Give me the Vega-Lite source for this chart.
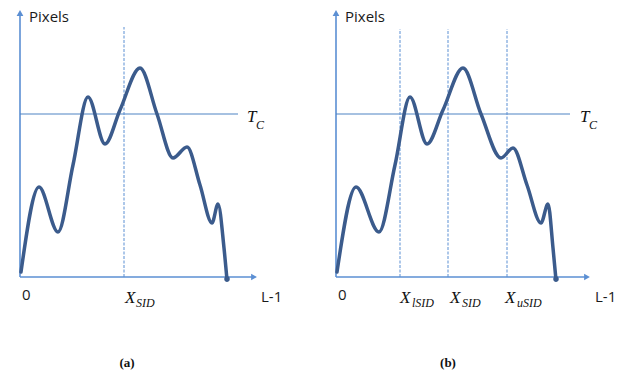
{
  "$schema": "https://vega.github.io/schema/vega-lite/v6.json",
  "width": 626,
  "height": 376,
  "padding": 0,
  "autosize": {"type": "fit", "contains": "padding"},
  "background": "white",
  "config": {"view": {"stroke": null}},
  "datasets": {
    "curve": [
      {"panel": "a", "gx": 21, "gy": 104}, {"panel": "a", "gx": 39, "gy": 189}, {"panel": "a", "gx": 58, "gy": 144},
      {"panel": "a", "gx": 73, "gy": 211}, {"panel": "a", "gx": 88, "gy": 279}, {"panel": "a", "gx": 105, "gy": 232},
      {"panel": "a", "gx": 120, "gy": 266}, {"panel": "a", "gx": 140, "gy": 308}, {"panel": "a", "gx": 157, "gy": 262},
      {"panel": "a", "gx": 173, "gy": 218}, {"panel": "a", "gx": 187, "gy": 229}, {"panel": "a", "gx": 200, "gy": 191},
      {"panel": "a", "gx": 212, "gy": 153}, {"panel": "a", "gx": 218, "gy": 172}, {"panel": "a", "gx": 224, "gy": 128},
      {"panel": "a", "gx": 227, "gy": 96},
      {"panel": "b", "gx": 337, "gy": 104}, {"panel": "b", "gx": 356, "gy": 189}, {"panel": "b", "gx": 379, "gy": 144},
      {"panel": "b", "gx": 395, "gy": 211}, {"panel": "b", "gx": 410, "gy": 279}, {"panel": "b", "gx": 427, "gy": 232},
      {"panel": "b", "gx": 443, "gy": 266}, {"panel": "b", "gx": 463, "gy": 308}, {"panel": "b", "gx": 481, "gy": 262},
      {"panel": "b", "gx": 501, "gy": 218}, {"panel": "b", "gx": 513, "gy": 228}, {"panel": "b", "gx": 527, "gy": 191},
      {"panel": "b", "gx": 541, "gy": 153}, {"panel": "b", "gx": 548, "gy": 172}, {"panel": "b", "gx": 553, "gy": 128},
      {"panel": "b", "gx": 556, "gy": 96}
    ],
    "axes": [
      {"gx": 20, "gy": 99, "gx2": 20, "gy2": 362},
      {"gx": 20, "gy": 99, "gx2": 253, "gy2": 99},
      {"gx": 336, "gy": 99, "gx2": 336, "gy2": 362},
      {"gx": 336, "gy": 99, "gx2": 586, "gy2": 99}
    ],
    "thresh": [
      {"gx": 20, "gy": 262, "gx2": 238, "gy2": 262},
      {"gx": 336, "gy": 262, "gx2": 570, "gy2": 262}
    ],
    "dashed": [
      {"gx": 124, "gy": 99, "gx2": 124, "gy2": 349},
      {"gx": 400, "gy": 99, "gx2": 400, "gy2": 347},
      {"gx": 448, "gy": 99, "gx2": 448, "gy2": 347},
      {"gx": 507, "gy": 99, "gx2": 507, "gy2": 347}
    ],
    "arrows": [
      {"gx": 20, "gy": 363, "shape": "triangle-up"},
      {"gx": 336, "gy": 363, "shape": "triangle-up"},
      {"gx": 254, "gy": 99, "shape": "triangle-right"},
      {"gx": 587, "gy": 99, "shape": "triangle-right"}
    ],
    "ends": [
      {"gx": 227, "gy": 97},
      {"gx": 556, "gy": 97}
    ],
    "sans": [
      {"gx": 29, "gy": 354, "label": "Pixels"},
      {"gx": 345, "gy": 354, "label": "Pixels"},
      {"gx": 22, "gy": 76, "label": "0"},
      {"gx": 338, "gy": 76, "label": "0"},
      {"gx": 261, "gy": 74, "label": "L-1"},
      {"gx": 595, "gy": 74, "label": "L-1"}
    ],
    "bigital": [
      {"gx": 125, "gy": 73, "label": "X"},
      {"gx": 400, "gy": 73, "label": "X"},
      {"gx": 450, "gy": 73, "label": "X"},
      {"gx": 505, "gy": 73, "label": "X"},
      {"gx": 247, "gy": 254, "label": "T"},
      {"gx": 580, "gy": 254, "label": "T"}
    ],
    "subital": [
      {"gx": 136, "gy": 69, "label": "SID"},
      {"gx": 412, "gy": 69, "label": "lSID"},
      {"gx": 462, "gy": 69, "label": "SID"},
      {"gx": 517, "gy": 69, "label": "uSID"},
      {"gx": 256, "gy": 247, "label": "C"},
      {"gx": 589, "gy": 247, "label": "C"}
    ],
    "captions": [
      {"gx": 127, "gy": 9, "label": "(a)"},
      {"gx": 448, "gy": 9, "label": "(b)"}
    ]
  },
  "layer": [
    {
      "data": {"name": "axes"},
      "mark": {"type": "rule", "color": "#5b8fd3", "strokeWidth": 1.6},
      "encoding": {
        "x": {"field": "gx", "type": "quantitative", "scale": {"domain": [0, 626], "nice": false, "zero": false}, "axis": null},
        "y": {"field": "gy", "type": "quantitative", "scale": {"domain": [0, 376], "nice": false, "zero": false}, "axis": null},
        "x2": {"field": "gx2"},
        "y2": {"field": "gy2"}
      }
    },
    {
      "data": {"name": "thresh"},
      "mark": {"type": "rule", "color": "#4f84c4", "strokeWidth": 1.2},
      "encoding": {
        "x": {"field": "gx", "type": "quantitative"},
        "y": {"field": "gy", "type": "quantitative"},
        "x2": {"field": "gx2"},
        "y2": {"field": "gy2"}
      }
    },
    {
      "data": {"name": "dashed"},
      "mark": {"type": "rule", "color": "#5b8fd3", "strokeWidth": 1, "strokeDash": [3, 1.5]},
      "encoding": {
        "x": {"field": "gx", "type": "quantitative"},
        "y": {"field": "gy", "type": "quantitative"},
        "x2": {"field": "gx2"},
        "y2": {"field": "gy2"}
      }
    },
    {
      "data": {"name": "arrows"},
      "mark": {"type": "point", "filled": true, "color": "#5b8fd3", "opacity": 1, "size": 45},
      "encoding": {
        "x": {"field": "gx", "type": "quantitative"},
        "y": {"field": "gy", "type": "quantitative"},
        "shape": {"field": "shape", "type": "nominal", "scale": null}
      }
    },
    {
      "data": {"name": "curve"},
      "mark": {"type": "line", "color": "#3b5b8c", "strokeWidth": 3.5, "interpolate": "monotone", "strokeCap": "round", "strokeJoin": "round"},
      "encoding": {
        "x": {"field": "gx", "type": "quantitative"},
        "y": {"field": "gy", "type": "quantitative"},
        "detail": {"field": "panel", "type": "nominal"}
      }
    },
    {
      "data": {"name": "ends"},
      "mark": {"type": "point", "filled": true, "color": "#3b5b8c", "opacity": 1, "size": 30},
      "encoding": {
        "x": {"field": "gx", "type": "quantitative"},
        "y": {"field": "gy", "type": "quantitative"}
      }
    },
    {
      "data": {"name": "sans"},
      "mark": {"type": "text", "font": "Open Sans", "fontSize": 15, "align": "left", "baseline": "alphabetic", "color": "#1a1a1a"},
      "encoding": {
        "x": {"field": "gx", "type": "quantitative"},
        "y": {"field": "gy", "type": "quantitative"},
        "text": {"field": "label"}
      }
    },
    {
      "data": {"name": "bigital"},
      "mark": {"type": "text", "font": "Liberation Serif", "fontStyle": "italic", "fontSize": 17, "align": "left", "baseline": "alphabetic", "color": "#111111"},
      "encoding": {
        "x": {"field": "gx", "type": "quantitative"},
        "y": {"field": "gy", "type": "quantitative"},
        "text": {"field": "label"}
      }
    },
    {
      "data": {"name": "subital"},
      "mark": {"type": "text", "font": "Liberation Serif", "fontStyle": "italic", "fontSize": 12, "align": "left", "baseline": "alphabetic", "color": "#111111"},
      "encoding": {
        "x": {"field": "gx", "type": "quantitative"},
        "y": {"field": "gy", "type": "quantitative"},
        "text": {"field": "label"}
      }
    },
    {
      "data": {"name": "captions"},
      "mark": {"type": "text", "font": "Liberation Serif", "fontSize": 13, "fontWeight": "bold", "align": "center", "baseline": "alphabetic", "color": "#111111"},
      "encoding": {
        "x": {"field": "gx", "type": "quantitative"},
        "y": {"field": "gy", "type": "quantitative"},
        "text": {"field": "label"}
      }
    }
  ]
}
